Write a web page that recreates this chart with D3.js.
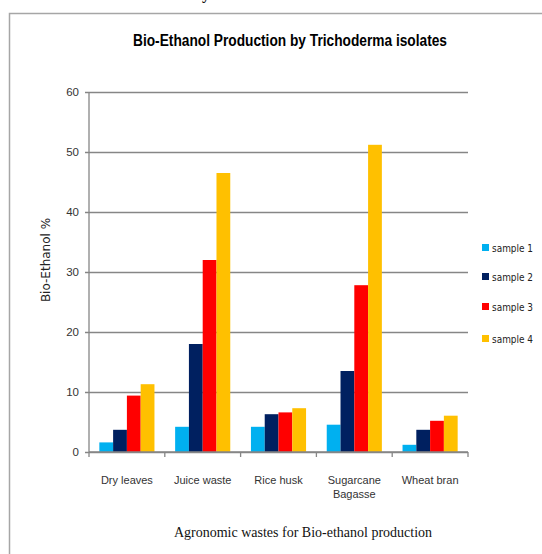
<!DOCTYPE html>
<html>
<head>
<meta charset="utf-8">
<script src="https://cdn.jsdelivr.net/npm/d3@7"></script>
<style>
  html, body { margin: 0; padding: 0; background: #fff; }
  svg { display: block; }
</style>
</head>
<body>
<svg id="chart" width="542" height="554"></svg>
<script>
// Agronomic waste substrates and bio-ethanol yield (%) for four Trichoderma samples
const categories = ["Dry leaves", "Juice waste", "Rice husk", "Sugarcane Bagasse", "Wheat bran"];
const seriesNames = ["sample 1", "sample 2", "sample 3", "sample 4"];
const sample1 = [1.6, 4.2, 4.2, 4.55, 1.2];
const sample2 = [3.7, 18.0, 6.3, 13.5, 3.7];
const sample3 = [9.4, 32.0, 6.6, 27.8, 5.2];
const sample4 = [11.3, 46.5, 7.3, 51.2, 6.05];
const seriesColors = ["#00b0f0", "#002060", "#ff0000", "#ffc000"];
const yTicks = [0, 10, 20, 30, 40, 50, 60];

const seriesValues = [sample1, sample2, sample3, sample4];
const rows = categories.map((c, i) => ({
  category: c,
  values: seriesNames.map((s, j) => ({ series: s, value: seriesValues[j][i] }))
}));

const svg = d3.select("#chart");
const plot = { left: 89, right: 468, top: 92, bottom: 452 };
const axisGray = "#868686";

// outer frame of the chart area
svg.append("path")
  .attr("d", "M9.5,560 L9.5,13.5 L542,13.5")
  .attr("fill", "none")
  .attr("stroke", "#a6a6a6")
  .attr("stroke-width", 1.5);

// descender of the line of text above the frame
svg.append("text")
  .attr("x", 202).attr("y", -1)
  .attr("font-family", "Liberation Serif, serif")
  .attr("font-weight", "bold")
  .attr("font-size", 16)
  .attr("fill", "#111")
  .text("y");

const x0 = d3.scaleBand().domain(categories).range([plot.left, plot.right]).paddingInner(0).paddingOuter(0);
const x1 = d3.scaleBand().domain(seriesNames).range([0, x0.bandwidth()]).paddingInner(0).paddingOuter(0.75);
const y = d3.scaleLinear().domain([0, 60]).range([plot.bottom, plot.top]);
const color = d3.scaleOrdinal().domain(seriesNames).range(seriesColors);

// horizontal gridlines with short left ticks
const yAxis = d3.axisLeft(y).tickValues(yTicks).tickSize(-(plot.right - plot.left)).tickSizeOuter(0).tickPadding(10);
const gy = svg.append("g").attr("transform", `translate(${plot.left},0)`).call(yAxis);
gy.select(".domain").remove();
gy.selectAll(".tick line")
  .attr("x1", -4)
  .attr("stroke", axisGray)
  .attr("stroke-width", 1.3);
gy.selectAll(".tick text")
  .attr("font-family", "Liberation Sans, sans-serif")
  .attr("font-size", 11.5)
  .attr("fill", "#333");

// bars
svg.append("g").selectAll("g")
  .data(rows)
  .join("g")
  .attr("transform", d => `translate(${x0(d.category)},0)`)
  .selectAll("rect")
  .data(d => d.values)
  .join("rect")
  .attr("x", d => x1(d.series))
  .attr("width", x1.bandwidth())
  .attr("y", d => y(d.value))
  .attr("height", d => y(0) - y(d.value))
  .attr("fill", d => color(d.series));

// vertical axis line
svg.append("line")
  .attr("x1", plot.left).attr("x2", plot.left)
  .attr("y1", plot.top).attr("y2", plot.bottom)
  .attr("stroke", axisGray).attr("stroke-width", 1.3);

// category axis with ticks at band boundaries
svg.append("line")
  .attr("x1", plot.left).attr("x2", plot.right)
  .attr("y1", plot.bottom).attr("y2", plot.bottom)
  .attr("stroke", axisGray).attr("stroke-width", 1.3);
const boundaries = categories.map(c => x0(c)).concat([plot.right]);
svg.append("g").selectAll("line")
  .data(boundaries)
  .join("line")
  .attr("x1", d => d).attr("x2", d => d)
  .attr("y1", plot.bottom).attr("y2", plot.bottom + 5)
  .attr("stroke", axisGray).attr("stroke-width", 1.3);

// category labels (long names wrap onto two lines)
const catLabels = svg.append("g").selectAll("text")
  .data(categories)
  .join("text")
  .attr("x", d => x0(d) + x0.bandwidth() / 2)
  .attr("y", 484)
  .attr("text-anchor", "middle")
  .attr("font-family", "Liberation Sans, sans-serif")
  .attr("font-size", 11)
  .attr("fill", "#333");
catLabels.each(function (d) {
  const words = d === "Sugarcane Bagasse" ? ["Sugarcane", "Bagasse"] : [d];
  const t = d3.select(this);
  words.forEach((w, i) => {
    t.append("tspan")
      .attr("x", x0(d) + x0.bandwidth() / 2)
      .attr("dy", i === 0 ? 0 : 14)
      .text(w);
  });
});

// title
svg.append("text")
  .attr("x", 290).attr("y", 46)
  .attr("text-anchor", "middle")
  .attr("font-family", "Liberation Sans, sans-serif")
  .attr("font-weight", "bold")
  .attr("font-size", 16)
  .attr("textLength", 314)
  .attr("lengthAdjust", "spacingAndGlyphs")
  .attr("fill", "#000")
  .text("Bio-Ethanol Production by Trichoderma isolates");

// y-axis title
svg.append("text")
  .attr("transform", "translate(50,260) rotate(-90)")
  .attr("text-anchor", "middle")
  .attr("font-family", "DejaVu Sans, Verdana, sans-serif")
  .attr("font-size", 12)
  .attr("fill", "#222")
  .text("Bio-Ethanol  %");

// x-axis title
svg.append("text")
  .attr("x", 303).attr("y", 537)
  .attr("text-anchor", "middle")
  .attr("font-family", "Liberation Serif, Times New Roman, serif")
  .attr("font-size", 14)
  .attr("fill", "#111")
  .text("Agronomic wastes for Bio-ethanol production");

// legend
const legendY = [248, 277, 307, 339];
const legend = svg.append("g").selectAll("g")
  .data(seriesNames)
  .join("g")
  .attr("transform", (d, i) => `translate(482,${legendY[i]})`);
legend.append("rect")
  .attr("x", 0).attr("y", -4)
  .attr("width", 7).attr("height", 7)
  .attr("fill", d => color(d));
legend.append("text")
  .attr("x", 10).attr("y", 4)
  .attr("font-family", "DejaVu Sans, Verdana, sans-serif")
  .attr("font-size", 11)
  .attr("textLength", 41)
  .attr("lengthAdjust", "spacingAndGlyphs")
  .attr("fill", "#222")
  .text(d => d);
</script>
</body>
</html>
